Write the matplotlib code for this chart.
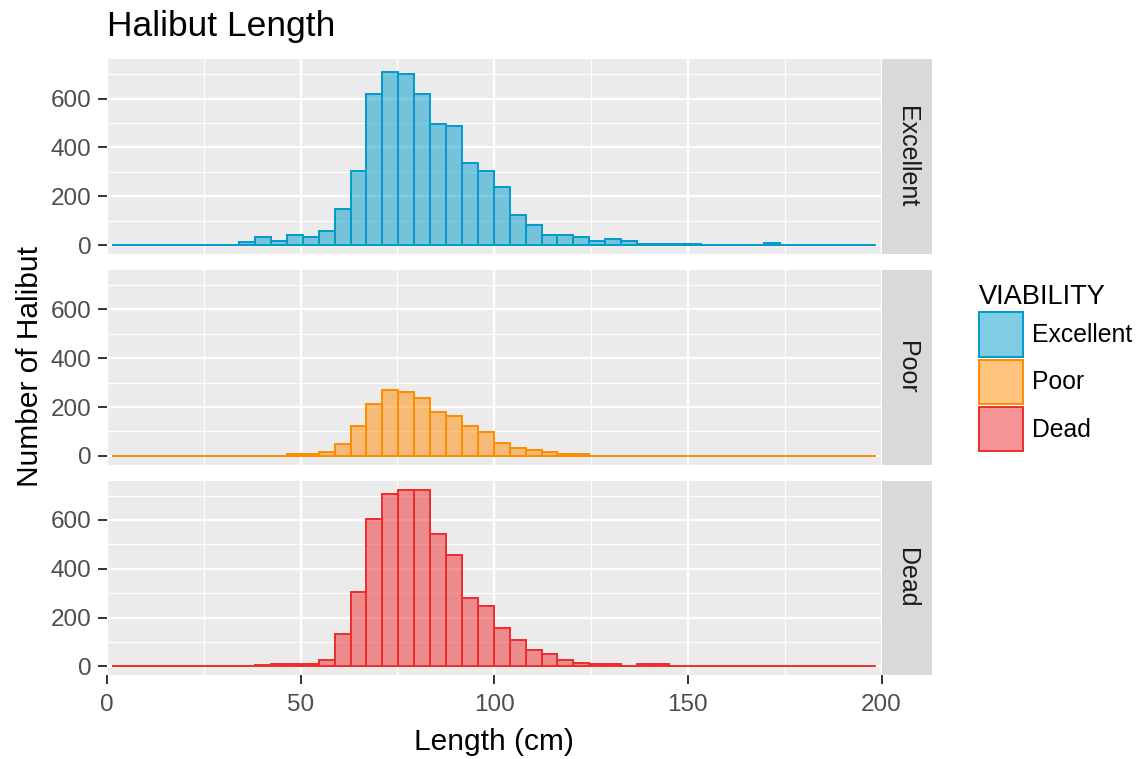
import numpy as np
import matplotlib.pyplot as plt
from matplotlib.patches import Patch, Rectangle
from matplotlib.colors import to_rgba
from matplotlib.ticker import MultipleLocator

plt.rcParams['font.family'] = ['Liberation Sans', 'DejaVu Sans']

# data (48 equal bins)
viability = ['Excellent', 'Poor', 'Dead']
line_colors = ['#009ACD', '#FF8C00', '#EE2C2C']

bin_lo = 1.24
bin_width = 4.11
n_bins = 48

excellent_counts = [0, 0, 0, 0, 0, 0, 0, 0,
                    11, 33, 18, 42, 33, 58, 148, 305, 620, 710, 700, 620,
                    495, 487, 338, 305, 240, 124, 84, 41, 41, 32, 18, 27,
                    18, 5, 5, 5, 5, 0, 0, 0, 0, 10, 0, 0, 0, 0, 0, 0]
poor_counts = [0, 0, 0, 0, 0, 0, 0, 0, 0, 0, 0,
               8, 8, 15, 47, 122, 213, 271, 263, 237, 180, 163, 122, 98,
               54, 33, 23, 15, 7, 7,
               0, 0, 0, 0, 0, 0, 0, 0, 0, 0, 0, 0, 0, 0, 0, 0, 0, 0]
dead_counts = [0, 0, 0, 0, 0, 0, 0, 0, 0,
               7, 8, 8, 9, 26, 132, 305, 602, 708, 724, 724, 543, 455,
               280, 247, 156, 109, 66, 50, 26, 16, 8, 8, 0, 9, 9,
               0, 0, 0, 0, 0, 0, 0, 0, 0, 0, 0, 0, 0]
all_counts = [excellent_counts, poor_counts, dead_counts]

x_ticks = [0, 50, 100, 150, 200]
y_ticks = [0, 200, 400, 600]

edges = bin_lo + bin_width * np.arange(n_bins + 1)

W, H = 1137, 759
fig = plt.figure(figsize=(W / 100, H / 100), dpi=100)

left = 107 / W
width = 774.5 / W
panel_h = 194.7 / H
tops = [59.3, 270.0, 480.6]
strip_w = 50.5 / 774.5

axes = []
for i, (name, col, counts) in enumerate(zip(viability, line_colors, all_counts)):
    ax = fig.add_axes([left, 1 - tops[i] / H - panel_h, width, panel_h])
    axes.append(ax)
    ax.set_facecolor('#EBEBEB')
    for s in ax.spines.values():
        s.set_visible(False)
    ax.set_axisbelow(True)
    ax.bar(edges[:-1], counts, width=bin_width, align='edge',
           facecolor=to_rgba(col, 0.5), edgecolor=col, linewidth=1.4)
    ax.set_xlim(0, 200)
    ax.set_ylim(-36.25, 761.25)
    ax.set_xticks(x_ticks)
    ax.set_yticks(y_ticks)
    ax.xaxis.set_minor_locator(MultipleLocator(25))
    ax.yaxis.set_minor_locator(MultipleLocator(100))
    ax.grid(which='major', color='white', linewidth=1.7)
    ax.grid(which='minor', color='white', linewidth=0.85)
    ax.tick_params(which='minor', length=0)
    ax.tick_params(axis='y', which='major', length=6.7, width=1.4,
                   color='#333333', labelcolor='#4D4D4D', labelsize=17.5, pad=4.5)
    if i < 2:
        ax.tick_params(axis='x', which='major', length=0, labelbottom=False)
    else:
        ax.tick_params(axis='x', which='major', length=6.7, width=1.4,
                       color='#333333', labelcolor='#4D4D4D', labelsize=17.5, pad=6.5)
    ax.add_patch(Rectangle((1, 0), strip_w, 1, transform=ax.transAxes,
                           clip_on=False, facecolor='#D9D9D9', edgecolor='none'))
    ax.text(1 + strip_w / 2, 0.5, name, transform=ax.transAxes, rotation=-90,
            ha='center', va='center', fontsize=18, color='#1A1A1A')

fig.text(107 / W, 1 - 36 / H, 'Halibut Length', fontsize=25.5,
         ha='left', va='baseline', color='black')
fig.text((107 + 881.5) / 2 / W, 1 - 742 / H, 'Length (cm)', fontsize=21.5,
         ha='center', va='center', color='black')
fig.text(30 / W, 1 - 367 / H, 'Number of Halibut', fontsize=21.5,
         rotation=90, ha='center', va='center', color='black')

handles = [Patch(facecolor=to_rgba(c, 0.5), edgecolor=c, linewidth=1.4, label=v)
           for v, c in zip(viability, line_colors)]
fig.legend(handles=handles, loc='upper left', bbox_to_anchor=(979 / W, 1 - 284 / H),
           frameon=False, fontsize=17.8, title='VIABILITY', title_fontsize=19.6,
           handlelength=1.78, handleheight=2.4, labelspacing=0.1,
           handletextpad=0.35, borderpad=0, borderaxespad=0, alignment='left')

fig.savefig('out.png', dpi=100, facecolor='white')
